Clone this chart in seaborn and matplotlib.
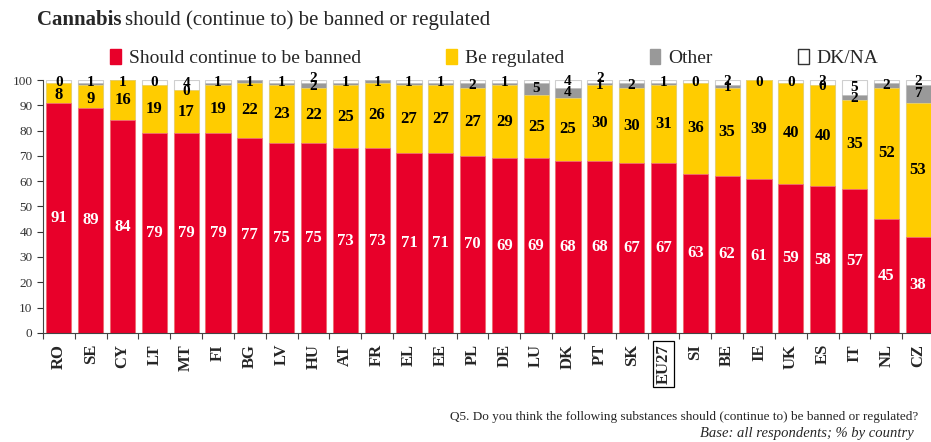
#!/usr/bin/env python3

import numpy as np
import pandas
import seaborn as sns
import matplotlib.pyplot as plt
from matplotlib.patches import Patch

countries = ["RO", "SE", "CY", "LT", "MT", "FI", "BG", "LV", "HU", "AT", "FR", "EL", "EE", "PL",
             "DE", "LU", "DK", "PT", "SK", "EU27", "SI", "BE", "IE", "UK", "ES", "IT", "NL", "CZ"]
banned = [91, 89, 84, 79, 79, 79, 77, 75, 75, 73, 73, 71, 71, 70,
          69, 69, 68, 68, 67, 67, 63, 62, 61, 59, 58, 57, 45, 38]
regulated = [8, 9, 16, 19, 17, 19, 22, 23, 22, 25, 26, 27, 27, 27,
             29, 25, 25, 30, 30, 31, 36, 35, 39, 40, 40, 35, 52, 53]
other = [0, 1, 1, 0, 0, 1, 1, 1, 2, 1, 1, 1, 1, 2,
         1, 5, 4, 1, 2, 1, 0, 1, 0, 0, 0, 2, 2, 7]
# DK/NA labels only printed for some bars in the source
dkna = [None, None, None, None, 4, None, None, None, 2, None, None, None, None, None,
        None, None, 4, 2, None, None, None, 2, None, None, 2, 5, None, 2]

RED = "#E8002A"
YELLOW = "#FFCC00"
GREY = "#999999"
SERIF = "Liberation Serif"

df = pandas.DataFrame({"country": countries, "banned": banned,
                       "regulated": regulated, "other": other})
df["total"] = 100
df["c3"] = df.banned + df.regulated + df.other
df["c2"] = df.banned + df.regulated

sns.set_style("white")
fig = plt.figure(figsize=(9.31, 4.42), dpi=100)
ax = fig.add_axes([0.0462, 0.247, 0.957, 0.572])

kw = dict(x="country", width=0.79, ax=ax, order=countries, saturation=1)
sns.barplot(data=df, y="total", color="white", edgecolor="#cfcfcf", linewidth=0.8, **kw)
sns.barplot(data=df, y="c3", color=GREY, edgecolor="#bdbdbd", linewidth=0.5, **kw)
sns.barplot(data=df, y="c2", color=YELLOW, edgecolor="#f0d870", linewidth=0.5, **kw)
sns.barplot(data=df, y="banned", color=RED, edgecolor="#f07088", linewidth=0.5, **kw)

lab = dict(ha="center", va="center", fontsize=12, fontweight="bold", family=SERIF)
small = dict(lab, fontsize=11)
for i in range(len(countries)):
    b, r, o, d = banned[i], regulated[i], other[i], dkna[i]
    ax.text(i, b / 2, str(b), color="white", **lab)
    ry = b + r / 2
    if r < 12:
        ry = b + r / 2 - 1
    ax.text(i, ry, str(r), color="black", **lab)
    oy = b + r + max(o, 2) / 2
    if d is not None and o < 3:
        oy = b + r + o / 2 - 0.5
    ax.text(i, min(oy, 99), str(o), color="black", **small)
    if d is not None:
        dy = b + r + o + d / 2 + 0.5
        ax.text(i, min(dy, 101.2), str(d), color="black", **small)

ax.set_ylim(0, 100)
ax.set_xlim(-0.5, len(countries) - 0.5)
ax.set_yticks(range(0, 101, 10))
ax.set_yticklabels([str(v) for v in range(0, 101, 10)], family=SERIF, fontsize=9.5)
ax.tick_params(axis="y", colors="#333333", length=4, direction="out", left=True)
ax.set_xlabel("")
ax.set_ylabel("")
for s in ["top", "right"]:
    ax.spines[s].set_visible(False)
for s in ["left", "bottom"]:
    ax.spines[s].set_color("#444444")
    ax.spines[s].set_linewidth(0.8)

# ticks sit between the bars, names centred under them
ax.set_xticks(np.arange(len(countries) + 1) - 0.5)
ax.set_xticklabels([])
ax.tick_params(axis="x", length=4, direction="out", bottom=True, colors="#444444")
ax.set_xticks(range(len(countries)), minor=True)
ax.set_xticklabels(countries, minor=True, rotation=90, fontsize=12, fontweight="bold", family=SERIF)
ax.tick_params(axis="x", which="minor", length=0, pad=8)
for t in ax.get_xticklabels(minor=True):
    if t.get_text() == "EU27":
        t.set_bbox(dict(facecolor="white", edgecolor="black", linewidth=0.9, pad=2))

# title: bold word followed by regular text
fig.canvas.draw()
t1 = fig.text(0.04, 0.955, "Cannabis", fontsize=15, fontweight="bold", family=SERIF, va="center")
fig.canvas.draw()
bb = t1.get_window_extent()
fig.text(bb.x1 / fig.bbox.width + 0.004, 0.955, "should (continue to) be banned or regulated",
         fontsize=15, family=SERIF, va="center")

handles = [Patch(facecolor=RED, edgecolor=RED), Patch(facecolor=YELLOW, edgecolor=YELLOW),
           Patch(facecolor=GREY, edgecolor=GREY), Patch(facecolor="white", edgecolor="#333333")]
fig.legend(handles, ["Should continue to be banned", "Be regulated", "Other", "DK/NA"],
           loc="center", bbox_to_anchor=(0.531, 0.868), ncol=4, frameon=False,
           prop={"family": SERIF, "size": 14}, handlelength=0.55, handleheight=0.75,
           handletextpad=0.4, columnspacing=4.4)

fig.text(0.986, 0.057, "Q5. Do you think the following substances should (continue to) be banned or regulated?",
         ha="right", va="center", fontsize=9.5, family=SERIF)
fig.text(0.982, 0.02, "Base: all respondents; % by country", ha="right", va="center",
         fontsize=10.5, family=SERIF, style="italic")

fig.savefig("out.png", dpi=100)
